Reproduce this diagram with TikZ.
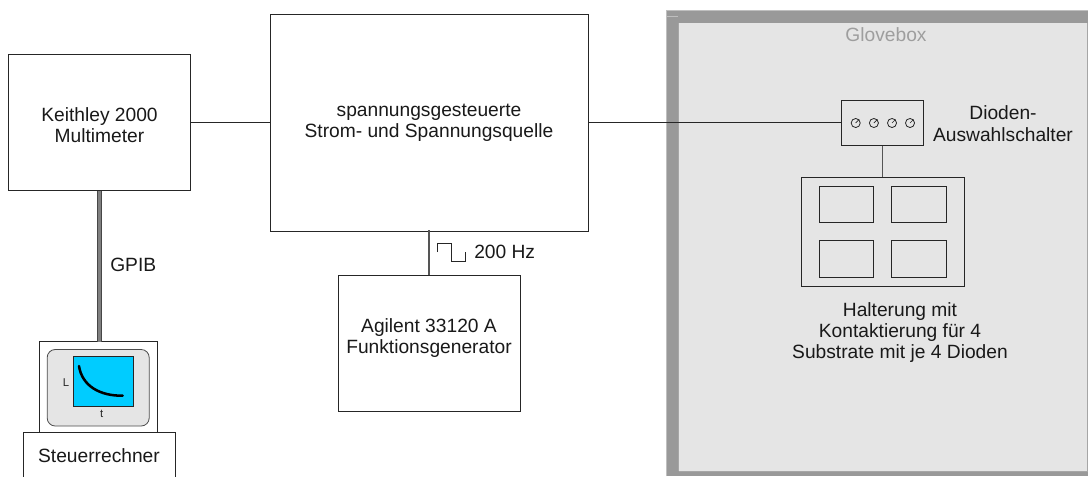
\documentclass[tikz,border=0pt]{standalone}
\usepackage{fontspec}
\setmainfont{Liberation Sans}
\definecolor{framegray}{HTML}{999999}
\definecolor{fillgray}{HTML}{E5E5E5}
\definecolor{screenblue}{HTML}{00CCFF}
\definecolor{wiregray}{HTML}{555555}
\tikzset{
  x=0.75pt,y=-0.75pt,
  boxn/.style={draw=black!85,line width=0.75pt,inner sep=0pt,outer sep=0pt,anchor=north west,align=center},
  lbl/.style={font=\fontsize{14.4}{16}\selectfont,align=center,text=black!90,inner sep=0pt},
  wire/.style={draw=black!85,line width=0.75pt},
  wireg/.style={draw=wiregray,line width=0.9pt},
  dial/.style={circle,draw=black!85,line width=0.6pt,minimum size=6.8pt,inner sep=0pt},
}
\newcommand{\pxbox}[5]{\node[boxn,minimum width=#3*0.75pt,minimum height=#4*0.75pt] (#1) at #2 {#5};}
\begin{document}
\begin{tikzpicture}
\useasboundingbox (0,0) rectangle (1088,476);
% glovebox
\fill[framegray] (666,10) rectangle (1088,476);
\draw[black!25,line width=0.6pt] (666,476) -- (666,10.4) -- (1088,10.4);
\fill[fillgray] (678.5,22.7) rectangle (1087,471);
\draw[black!35,line width=0.6pt] (678.5,471) -- (678.5,22.7);
\draw[black!35,line width=0.6pt] (678.5,471) -- (1087,471) -- (1087,22.7);
\draw[black!25,line width=0.5pt] (666,16) -- (678,16);
\node[lbl,text=black!38,anchor=base] (glove) at (886,41.7) {Glovebox};
\coordinate (yw) at (0,122);
% main boxes
\pxbox{keithley}{(8.5,54.5)}{182}{136}{}
\node[lbl] (keithleyt) at (99.5,125) {Keithley 2000\\Multimeter};
\pxbox{source}{(270.5,14)}{317.5}{217.5}{}
\node[lbl] (sourcet) at (429,122.5) {spannungsgesteuerte\\Strom- und Spannungsquelle};
\pxbox{agilent}{(338.5,275)}{181.5}{136}{}
\node[lbl] (agilentt) at (429,338) {Agilent 33120 A\\Funktionsgenerator};
% monitor
\pxbox{monitor}{(39.5,341.7)}{118}{91}{}
\node[draw=black!70,fill=fillgray,line width=0.6pt,rounded corners=6pt,inner sep=0pt,outer sep=0pt,anchor=north west,minimum width=102*0.75pt,minimum height=76.5*0.75pt] (bezel) at (47.2,349.5) {};
\node[draw=black!85,fill=screenblue,line width=0.75pt,inner sep=0pt,outer sep=0pt,anchor=north west,minimum width=60*0.75pt,minimum height=49.5*0.75pt] (screen) at (73.5,356.8) {};
\draw[black,line width=1.9pt,line cap=round] (79,366) .. controls (82,386) and (100,396) .. (122.7,395.7);
\node[font=\fontsize{8.5}{10}\selectfont,inner sep=0pt,text=black!85] (lL) at (66,383) {L};
\node[font=\fontsize{8.5}{10}\selectfont,inner sep=0pt,text=black!85] (lt) at (101.7,414) {t};
\node[boxn,minimum width=152*0.75pt,minimum height=50*0.75pt] (pc) at (23.4,432.8) {};
\node[lbl,anchor=base] (pct) at (99,462.3) {Steuerrechner};
% GPIB
\draw[black!72,line width=3.9pt] (keithley.south) -- (monitor.north -| keithley.south);
\draw[black!50,line width=2.4pt] (keithley.south) -- (monitor.north -| keithley.south);
\node[lbl,anchor=base west] (gpib) at (110,271) {GPIB};
% connectors
\draw[wire] (keithley.east |- yw) -- (source.west |- yw);
\coordinate (xs) at (429,0);
\draw[wireg] (agilent.north -| xs) -- ([yshift=1.5pt]source.south -| xs);
% pulse
\draw[black!85,line width=0.6pt] (437.7,252) -- (437.7,243.5) -- (451.7,243.5) -- (451.7,261) -- (465.7,261) -- (465.7,252);
\node[lbl,anchor=base west] (hz) at (474,258.3) {200 Hz};
% switch
\pxbox{switch}{(841.5,100.5)}{82}{45}{}
\draw[wire] (source.east |- yw) -- (switch.west |- yw);
\foreach \n/\x in {a/855.7,b/873.9,c/892,d/910}{
  \node[dial] (d\n) at (\x,123) {};
  \draw[black!85,line width=0.5pt] (d\n.center) -- (d\n.north east);
}
\node[lbl] (swt) at (1003,123.5) {Dioden-\\Auswahlschalter};
% holder
\pxbox{holder}{(801,177)}{163.7}{109.3}{}
\draw[wireg] (switch.south) -- (holder.north -| switch.south);
\foreach \n/\x/\y/\h in {a/819/186.4/36,b/891.4/186.4/36,c/819/240.4/37,d/891.4/240.4/37}{
  \node[boxn,minimum width=54.8*0.75pt,minimum height=\h*0.75pt] (h\n) at (\x,\y) {};
}
\node[lbl] (holdt) at (900,332.5) {Halterung mit\\Kontaktierung für 4\\Substrate mit je 4 Dioden};
\end{tikzpicture}
\end{document}
